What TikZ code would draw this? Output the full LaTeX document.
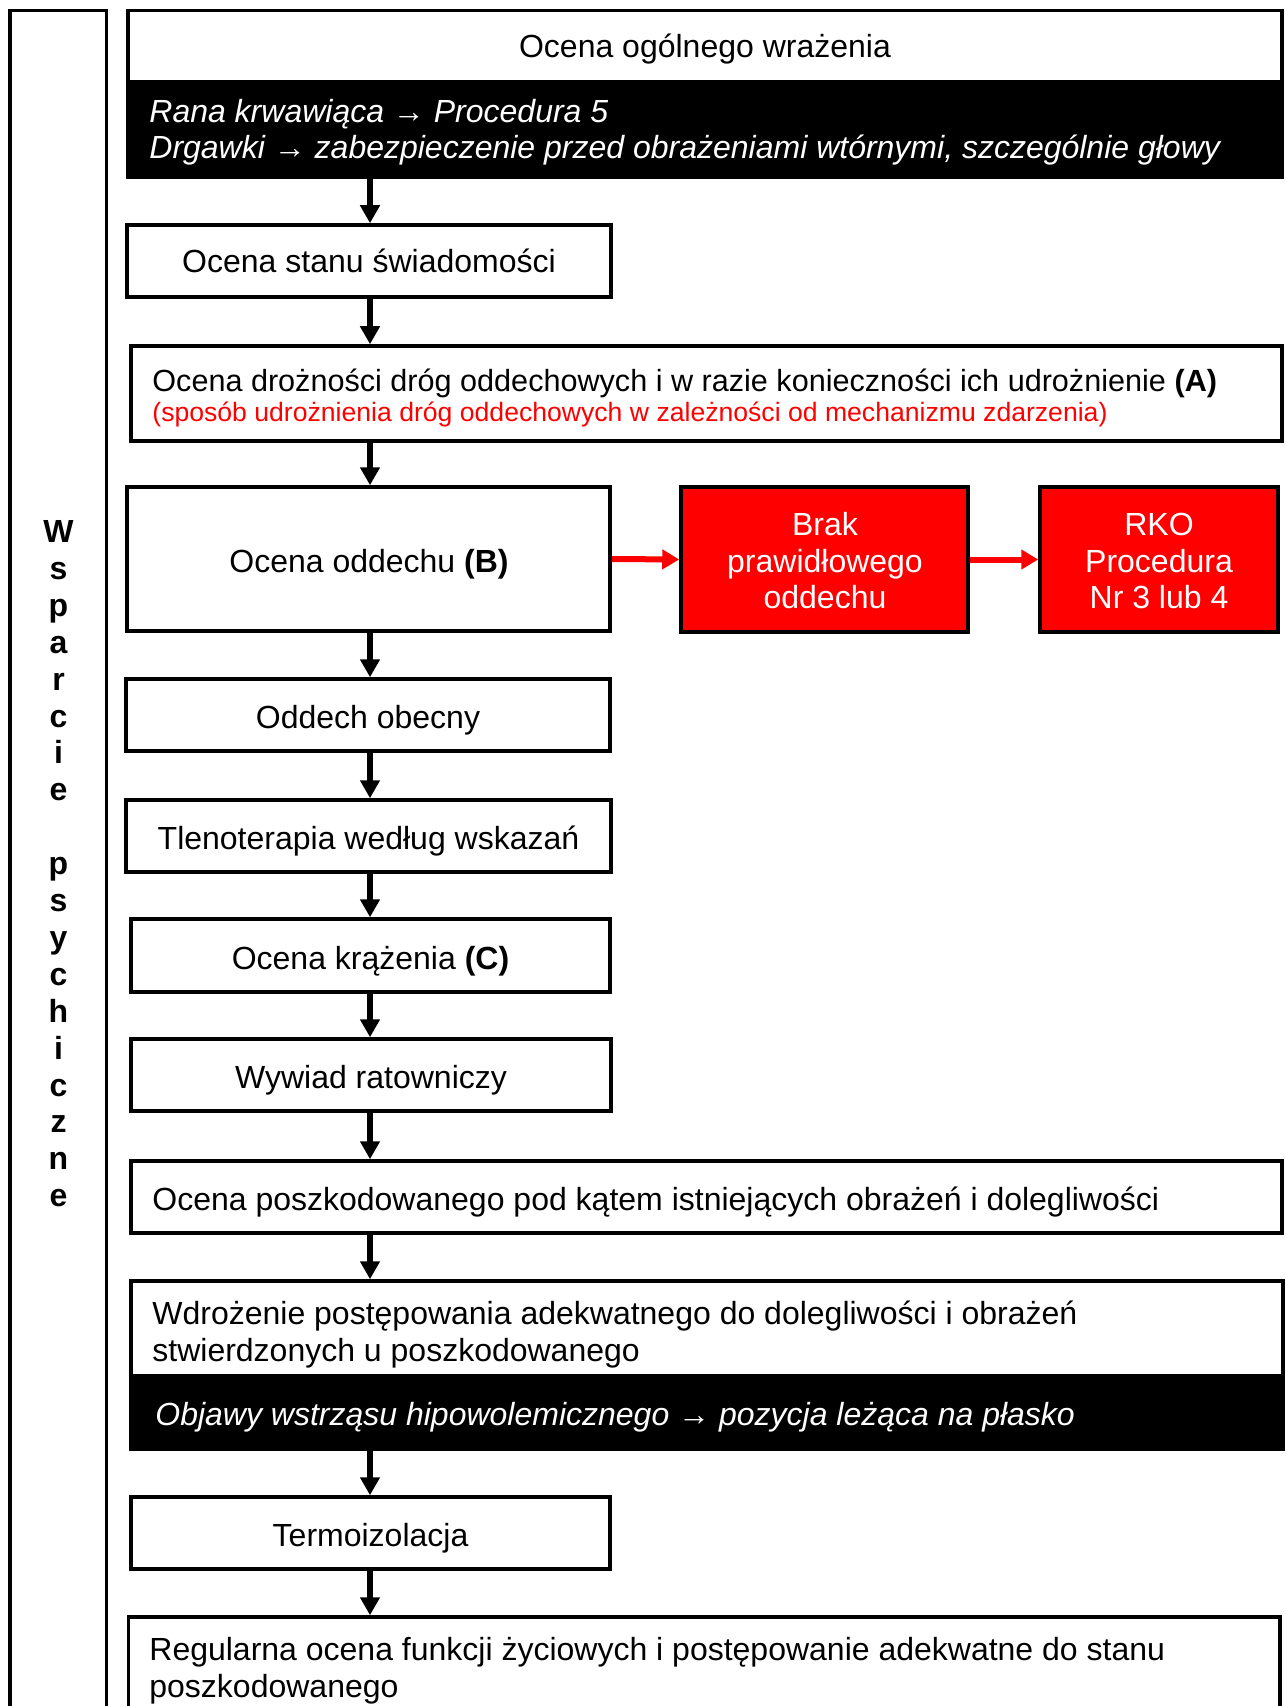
\documentclass[tikz,border=0pt]{standalone}
\usepackage{fontspec}
\setmainfont{Liberation Sans}
\usetikzlibrary{arrows.meta,fit}
\begin{document}
\begin{tikzpicture}[x=0.5pt,y=-0.5pt,
  frame/.style={draw=black,line width=1.75pt,inner sep=0pt,rectangle},
  redbox/.style={frame,fill=red},
  txt/.style={inner sep=0pt,font=\fontsize{16}{19}\selectfont},
  note/.style={txt,text=white,font=\fontsize{16}{19}\selectfont\itshape},
  airtxt/.style={txt,font=\fontsize{15.3}{18}\selectfont},
  redtxt/.style={txt,text=red,font=\fontsize{13.3}{16}\selectfont},
  wtxt/.style={txt,text=white},
  letter/.style={inner sep=0pt,font=\fontsize{16}{19}\selectfont\bfseries,anchor=base},
  flow/.style={line width=2.6pt,-{Triangle[width=9.5pt,length=9pt]}},
  redflow/.style={red,line width=3pt,-{Triangle[width=9.5pt,length=8.5pt]}}
]
\useasboundingbox (0,0) rectangle (1285,1706);
\clip (0,0) rectangle (1285,1706);

% side column
\node[frame,fit={(10,10.5) (106.5,1760)}] (side) {};
\foreach \i/\l in {0/W,1/s,2/p,3/a,4/r,5/c,6/i,7/e,9/p,10/s,11/y,12/c,13/h,14/i,15/c,16/z,17/n,18/e}
  \node[letter] (side-\i) at (58.5,542.5+36.9*\i) {\l};

% black bands inside the two split boxes
\fill[black] (128,80) rectangle (1282,177);
\fill[black] (131,1374) rectangle (1283,1449);

% boxes
\node[frame,fit={(128,10.5) (1282,177)}] (general) {};
\node[frame,fit={(127,225) (611,297)}] (swiad) {};
\node[frame,fit={(131,346) (1282,441)}] (airway) {};
\node[frame,fit={(127,487) (610,631)}] (oddech) {};
\node[redbox,fit={(681,487) (968,632)}] (brak) {};
\node[redbox,fit={(1040,487) (1278,632)}] (rko) {};
\node[frame,fit={(126,679) (610,751)}] (obecny) {};
\node[frame,fit={(126,800) (611,872)}] (tleno) {};
\node[frame,fit={(131,919) (610,992)}] (krazenie) {};
\node[frame,fit={(131,1039) (611,1111)}] (wywiad) {};
\node[frame,fit={(131,1161) (1282,1233)}] (poszk) {};
\node[frame,fit={(131,1281) (1283,1449)}] (wdroz) {};
\node[frame,fit={(131,1497) (610,1569)}] (termo) {};
\node[frame,fit={(128.5,1617) (1280,1760)}] (regul) {};

% texts
\node[txt,anchor=base] (t-general) at (705,58) {Ocena ogólnego wrażenia};
\node[note,anchor=base west] (t-rana) at (149,123) {Rana krwawiąca → Procedura 5};
\node[note,anchor=base west] (t-drgawki) at (149,159) {Drgawki → zabezpieczenie przed obrażeniami wtórnymi, szczególnie głowy};
\node[txt,anchor=base] (t-swiad) at (369,273) {Ocena stanu świadomości};
\node[airtxt,anchor=base west] (t-airway) at (152,391) {Ocena drożności dróg oddechowych i w razie konieczności ich udrożnienie \textbf{(A)}};
\node[redtxt,anchor=base west] (t-airway2) at (152,421) {(sposób udrożnienia dróg oddechowych w zależności od mechanizmu zdarzenia)};
\node[txt,anchor=base] (t-oddech) at (369,572) {Ocena oddechu \textbf{(B)}};
\node[wtxt,anchor=base] (t-brak1) at (825,535) {Brak};
\node[wtxt,anchor=base] (t-brak2) at (825,572) {prawidłowego};
\node[wtxt,anchor=base] (t-brak3) at (825,608) {oddechu};
\node[wtxt,anchor=base] (t-rko1) at (1159,535) {RKO};
\node[wtxt,anchor=base] (t-rko2) at (1159,572) {Procedura};
\node[wtxt,anchor=base] (t-rko3) at (1159,608) {Nr 3 lub 4};
\node[txt,anchor=base] (t-obecny) at (368,728) {Oddech obecny};
\node[txt,anchor=base] (t-tleno) at (368.5,849) {Tlenoterapia według wskazań};
\node[txt,anchor=base] (t-krazenie) at (370.5,969) {Ocena krążenia \textbf{(C)}};
\node[txt,anchor=base] (t-wywiad) at (371,1088) {Wywiad ratowniczy};
\node[txt,anchor=base west] (t-poszk) at (152,1210) {Ocena poszkodowanego pod kątem istniejących obrażeń i dolegliwości};
\node[txt,anchor=base west] (t-wdroz1) at (152,1324) {Wdrożenie postępowania adekwatnego do dolegliwości i obrażeń};
\node[txt,anchor=base west] (t-wdroz2) at (152,1361) {stwierdzonych u poszkodowanego};
\node[note,anchor=base west] (t-objawy) at (155,1425) {Objawy wstrząsu hipowolemicznego → pozycja leżąca na płasko};
\node[txt,anchor=base] (t-termo) at (370.5,1546) {Termoizolacja};
\node[txt,anchor=base west] (t-regul1) at (149,1660) {Regularna ocena funkcji życiowych i postępowanie adekwatne do stanu};
\node[txt,anchor=base west] (t-regul2) at (149,1697) {poszkodowanego};

% connectors
\coordinate (axis) at (370,0);
\draw[flow] (general.south -| axis) -- (swiad.north -| axis);
\draw[flow] (swiad.south -| axis) -- (airway.north -| axis);
\draw[flow] (airway.south -| axis) -- (oddech.north -| axis);
\draw[flow] (oddech.south -| axis) -- (obecny.north -| axis);
\draw[flow] (obecny.south -| axis) -- (tleno.north -| axis);
\draw[flow] (tleno.south -| axis) -- (krazenie.north -| axis);
\draw[flow] (krazenie.south -| axis) -- (wywiad.north -| axis);
\draw[flow] (wywiad.south -| axis) -- (poszk.north -| axis);
\draw[flow] (poszk.south -| axis) -- (wdroz.north -| axis);
\draw[flow] (wdroz.south -| axis) -- (termo.north -| axis);
\draw[flow] (termo.south -| axis) -- (regul.north -| axis);
\draw[redflow] (oddech.east) -- (brak.west);
\draw[redflow] (brak.east) -- (rko.west);
\end{tikzpicture}
\end{document}
